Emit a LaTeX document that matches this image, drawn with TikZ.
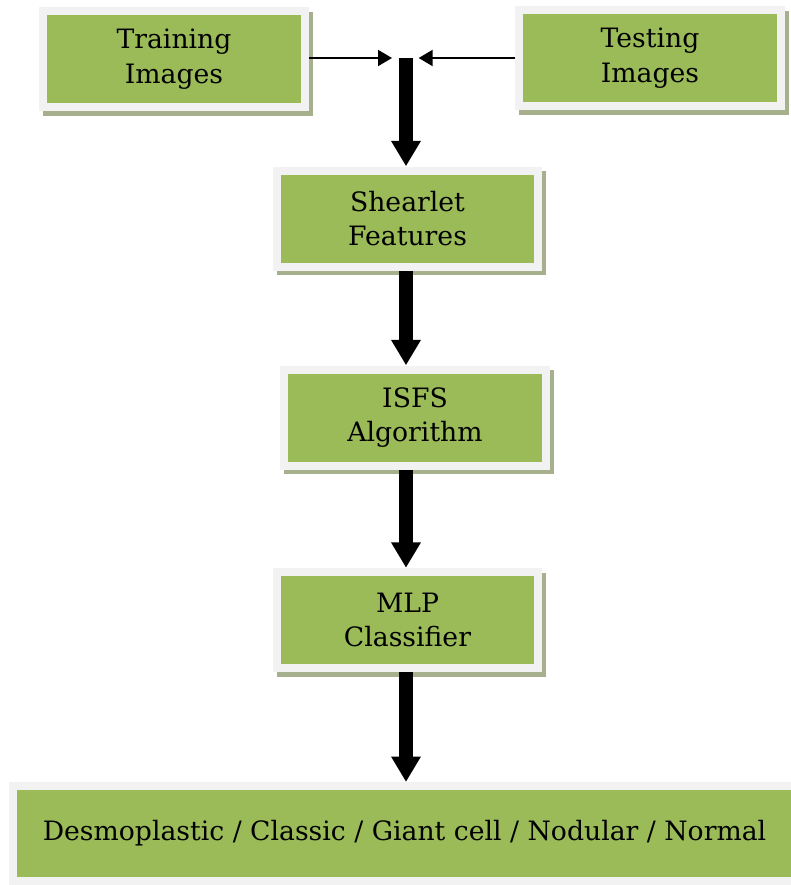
\documentclass[tikz,border=0pt]{standalone}
\usepackage{fontspec}
\setmainfont{DejaVu Serif}
\usetikzlibrary{arrows.meta,shadows}
\definecolor{boxgreen}{HTML}{9BBB59}
\definecolor{boxrim}{HTML}{F2F2F2}
\definecolor{boxshade}{RGB}{166,176,140}

\begin{document}
\begin{tikzpicture}[x=0.75pt,y=-0.75pt,
    blk/.style={fill=boxrim, inner sep=0pt, align=center,
      minimum width=202pt, minimum height=78pt,
      font=\fontsize{20}{26}\selectfont,
      drop shadow={shadow xshift=3pt, shadow yshift=-3.5pt, fill=boxshade, opacity=1},
      path picture={\fill[boxgreen] ([shift={(6pt,-6pt)}]path picture bounding box.north west)
        rectangle ([shift={(-6pt,6pt)}]path picture bounding box.south east);}},
    fat/.style={line width=10.5pt, -{Triangle[width=21pt,length=19pt]}},
    feed/.style={line width=1.5pt, -{Triangle[width=12pt,length=10.5pt]}}]
    \useasboundingbox (0,0) rectangle (790,885);
    \node [blk] (train) at (174,59) {Training\\Images};
    \node [blk] (test) at (650,58) {Testing\\Images};
    \node [blk] (shear) at (407.5,218.5) {Shearlet\\Features};
    \node [blk] (isfs) at (415,417.5) {ISFS\\Algorithm};
    \node [blk] (mlp) at (407.5,620) {MLP\\Classifier};
    \node [blk, minimum width=593pt, minimum height=77pt] (out) at (404.5,833.5)
      {Desmoplastic / Classic / Giant cell / Nodular / Normal};
    \coordinate (join) at (406,58);
    \draw [feed, shorten >=10.5pt] (train.east |- join) -- (join);
    \draw [feed, shorten >=9.5pt] (test.west |- join) -- (join);
    \draw [fat] (join) -- (shear.north -| join);
    \draw [fat] (shear.south -| join) -- (isfs.north -| join);
    \draw [fat] (isfs.south -| join) -- (mlp.north -| join);
    \draw [fat] (mlp.south -| join) -- (out.north -| join);
\end{tikzpicture}
\end{document}
